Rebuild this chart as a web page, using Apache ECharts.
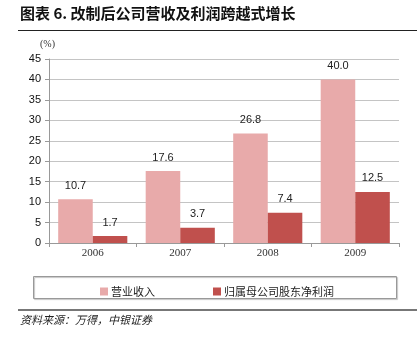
<!DOCTYPE html>
<html>
<head>
<meta charset="utf-8">
<script src="https://cdn.jsdelivr.net/npm/echarts@6/dist/echarts.min.js"></script>
<style>
  html, body { margin: 0; padding: 0; background: #fff; }
  #chart { width: 417px; height: 343px; }
</style>
</head>
<body>
<div id="chart"></div>
<script>
// Years and growth rates (%)
const years = ['2006', '2007', '2008', '2009'];
const revenue = [10.7, 17.6, 26.8, 40.0];
const netProfit = [1.7, 3.7, 7.4, 12.5];
const seriesNames = ['营业收入', '归属母公司股东净利润'];

const chart = echarts.init(document.getElementById('chart'));

const labelStyle = {
  show: true,
  position: 'top',
  distance: 8,
  fontFamily: 'Liberation Sans, Arial, sans-serif',
  fontSize: 11,
  color: '#222',
  formatter: p => p.value.toFixed(1)
};

chart.setOption({
  animation: false,
  textStyle: { fontFamily: 'Liberation Sans, Arial, sans-serif' },
  grid: { left: 49, right: 18, top: 59, bottom: 100 },
  xAxis: {
    type: 'category',
    data: years,
    axisLine: { lineStyle: { color: '#999' } },
    axisTick: { show: true, length: 4, lineStyle: { color: '#999' } },
    axisLabel: { fontFamily: 'Liberation Serif, Times New Roman, serif', fontSize: 11, color: '#333', margin: 5 }
  },
  yAxis: {
    type: 'value',
    min: 0, max: 45, interval: 5,
    axisLine: { show: true, lineStyle: { color: '#999' } },
    axisTick: { show: true, length: 4, lineStyle: { color: '#999' } },
    axisLabel: { fontSize: 11, color: '#111', margin: 8 },
    splitLine: { lineStyle: { color: '#aaa', type: 'solid', width: 0.7 } }
  },
  legend: {
    data: seriesNames,
    left: 95, top: 281,
    itemWidth: 8, itemHeight: 8, itemGap: 58,
    icon: 'rect',
    textStyle: { fontFamily: 'Noto Sans CJK SC', fontSize: 11, color: '#222', padding: [0, 0, 0, -2] }
  },
  series: [
    {
      name: seriesNames[0], type: 'bar', data: revenue,
      barGap: '0%', barCategoryGap: '21%',
      itemStyle: { color: '#E8AAAA' },
      label: labelStyle
    },
    {
      name: seriesNames[1], type: 'bar', data: netProfit,
      itemStyle: { color: '#C0504D' },
      label: labelStyle
    }
  ],
  graphic: [
    { type: 'text', left: 20, top: 6, style: { text: '图表 6. 改制后公司营收及利润跨越式增长', font: 'bold 15px "Noto Sans CJK SC"', fill: '#111' } },
    { type: 'line', shape: { x1: 18, y1: 30.5, x2: 417, y2: 30.5 }, style: { stroke: '#222', lineWidth: 1.2 } },
    { type: 'text', left: 40, top: 39, style: { text: '(%)', font: '10px "Liberation Serif", serif', fill: '#333' } },
    { type: 'rect', shape: { x: 33.5, y: 276.5, width: 363, height: 22 }, style: { fill: 'none', stroke: '#999', lineWidth: 1, shadowColor: 'rgba(0,0,0,0.25)', shadowOffsetX: 1, shadowOffsetY: 1, shadowBlur: 1 } },
    { type: 'line', shape: { x1: 18, y1: 310, x2: 417, y2: 310 }, style: { stroke: '#777', lineWidth: 2 } },
    { type: 'text', left: 20, top: 314, style: { text: '资料来源：万得，中银证券', font: 'italic 11px "Noto Sans CJK SC"', fill: '#222' } }
  ]
});
</script>
</body>
</html>
